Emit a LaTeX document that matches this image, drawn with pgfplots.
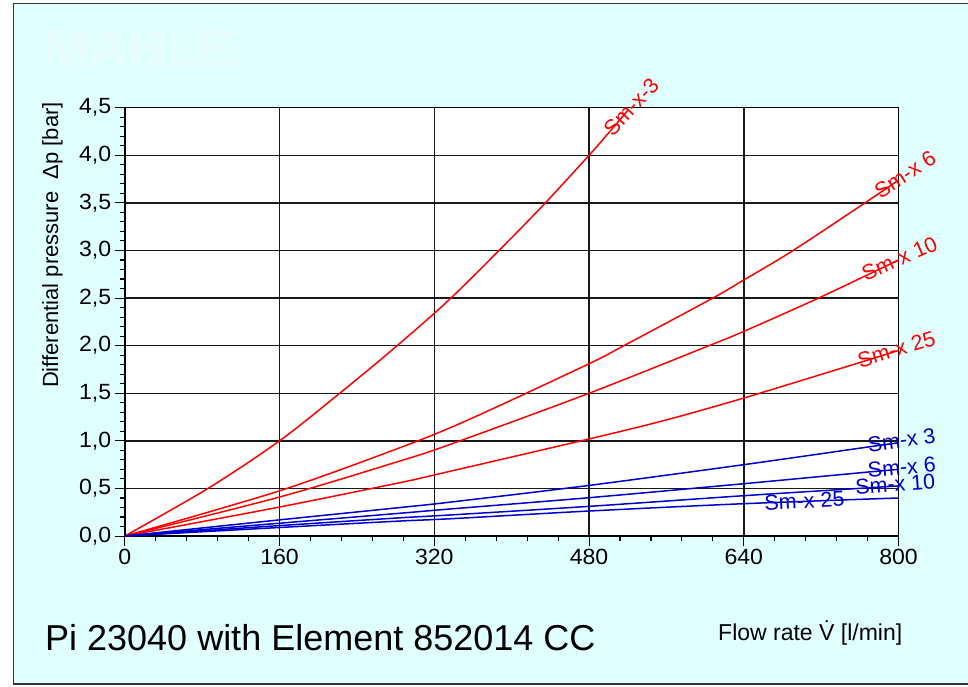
\documentclass[border=0pt]{standalone}
\usepackage{fontspec}
\setmainfont{Liberation Sans}
\newfontfamily\tickfont[FakeStretch=1.05]{Liberation Sans}
\usepackage{pgfplots}
\pgfplotsset{compat=1.18}
\definecolor{bgc}{RGB}{224,255,255}
\definecolor{logoc}{RGB}{231,252,252}
\definecolor{cblue}{RGB}{0,0,205}
\tikzset{lab/.style={anchor=west, inner sep=0, yshift=2pt, font=\fontsize{21.5}{21.5}\selectfont}}
\begin{document}
\begin{tikzpicture}[x=1pt,y=1pt]
\useasboundingbox (0,0) rectangle (968,686);
\fill[bgc, draw=black!80, line width=1.2pt] (13.5,2) rectangle (990,682.5);
\node[logoc, font=\fontsize{54}{54}\selectfont\bfseries, anchor=base west, inner sep=0] at (43,618) {MAHLE};
\node[rotate=90, anchor=north east, inner sep=0, font=\fontsize{22}{22}\selectfont] at (42,584) {Differential pressure\ \ Δp [bar]};
\node[anchor=base west, inner sep=0, font=\fontsize{36}{36}\selectfont] at (45,36) {Pi 23040 with Element 852014 CC};
\node[anchor=base west, inner sep=0, font=\fontsize{23}{23}\selectfont] at (718,46) {Flow rate V̇ [l/min]};
\begin{axis}[
  at={(129,157.5)}, anchor=south west,
  scale only axis, width=773.8pt, height=428.4pt,
  xmin=0, xmax=800, ymin=0, ymax=4.5,
  xtick={0,160,...,800}, ytick={0,0.5,...,4.5},
  minor x tick num=4, minor y tick num=4,
  grid=major, major grid style={black!90, line width=1.4pt},
  axis line style={black, line width=1.5pt},
  tick style={black, line width=1.1pt},
  major tick length=10pt, minor tick length=5pt,
  tick align=outside, xtick pos=bottom, ytick pos=left,
  axis background/.style={fill=white},
  /pgf/number format/assume math mode=true,
  ticklabel style={font=\tickfont\fontsize{22}{22}\selectfont},
  yticklabel style={/pgf/number format/.cd, fixed, fixed zerofill, precision=1, use comma},
  xticklabel style={/pgf/number format/.cd, fixed, precision=0, 1000 sep={}},
  clip=false,
  every axis plot/.append style={line width=1.5pt, smooth},
]
\addplot[red] coordinates {(0,0) (86,0.5) (160,1.0) (221,1.49) (277,1.96) (333,2.46) (385,2.98) (433,3.48) (480,4.0) (499,4.22) (520,4.47)};
\addplot[red] coordinates {(0,0) (160,0.475) (285,0.93) (355,1.22) (480,1.81) (516,2.0) (608,2.5) (640,2.69) (691,3.0) (777,3.58) (800,3.74)};
\addplot[red] coordinates {(0,0) (160,0.41) (285,0.79) (337,0.965) (480,1.5) (604,2.0) (640,2.15) (713,2.48) (763,2.72) (800,2.9)};
\addplot[red] coordinates {(0,0) (160,0.305) (285,0.562) (320,0.642) (480,1.02) (558,1.215) (640,1.45) (758,1.817) (800,1.95)};
\addplot[cblue] coordinates {(0,0) (160,0.17) (285,0.30) (337,0.357) (480,0.532) (640,0.75) (768,0.935) (800,0.98)};
\addplot[cblue] coordinates {(0,0) (160,0.135) (285,0.24) (337,0.285) (480,0.403) (640,0.55) (768,0.672) (800,0.70)};
\addplot[cblue] coordinates {(0,0) (160,0.11) (285,0.192) (337,0.222) (480,0.312) (640,0.424) (755,0.498) (800,0.527)};
\addplot[cblue] coordinates {(0,0) (160,0.09) (285,0.158) (337,0.182) (480,0.263) (640,0.34) (800,0.40)};
\node[lab, red, rotate=47] at (axis cs:499,4.22) {Sm-x-3};
\node[lab, red, rotate=33] at (axis cs:777,3.58) {Sm-x 6};
\node[lab, red, rotate=24] at (axis cs:763,2.72) {Sm-x 10};
\node[lab, red, rotate=17] at (axis cs:758,1.817) {Sm-x 25};
\node[lab, cblue, rotate=8] at (axis cs:768,0.935) {Sm-x 3};
\node[lab, cblue, rotate=5] at (axis cs:768,0.672) {Sm-x 6};
\node[lab, cblue, rotate=4] at (axis cs:755,0.498) {Sm-x 10};
\node[lab, cblue, rotate=3, yshift=-2pt] at (axis cs:661,0.348) {Sm-x 25};
\end{axis}
\end{tikzpicture}
\end{document}
